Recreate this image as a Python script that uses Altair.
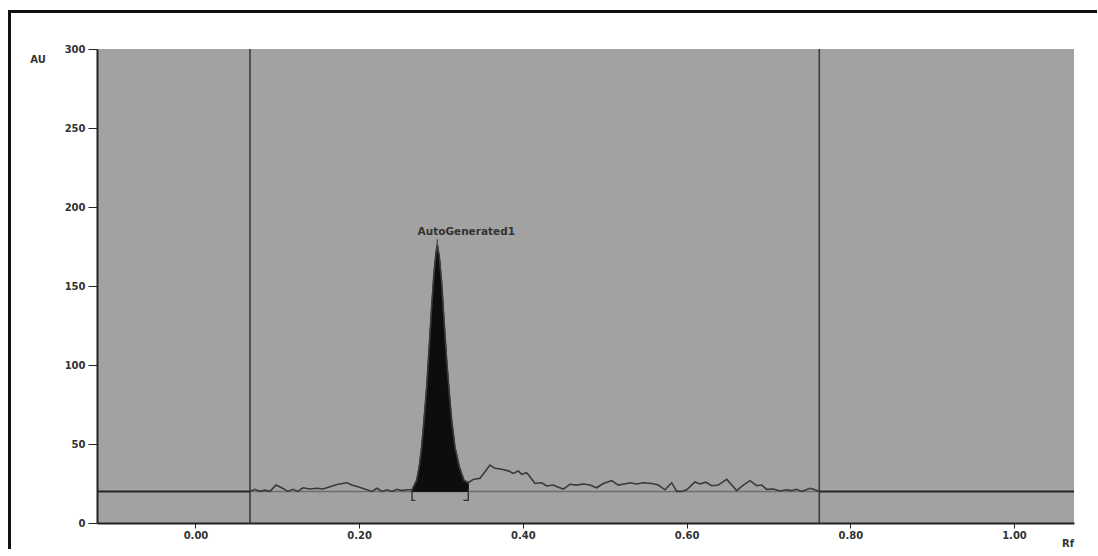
import altair as alt
import pandas as pd

# Densitogram trace: Rf position and detector response (AU)
rf = [
    0.0666, 0.0727, 0.0788, 0.0849, 0.0910, 0.0983, 0.1053, 0.1130, 0.1191, 0.1252,
    0.1313, 0.1399, 0.1484, 0.1558, 0.1643, 0.1741, 0.1851, 0.1912, 0.1985, 0.2095,
    0.2156, 0.2217, 0.2279, 0.2340, 0.2401, 0.2462, 0.2523, 0.2584, 0.2646,
    0.2703, 0.2734, 0.2764, 0.2792, 0.2825, 0.2856, 0.2886, 0.2914, 0.2938, 0.2954,
    0.2979, 0.3008, 0.3036, 0.3069, 0.3101, 0.3130, 0.3170, 0.3223, 0.3280, 0.3333,
    0.3394, 0.3476, 0.3537, 0.3598, 0.3659, 0.3741, 0.3822, 0.3883, 0.3944, 0.3985,
    0.4046, 0.4087, 0.4148, 0.4230, 0.4291, 0.4371, 0.4433, 0.4494, 0.4575, 0.4657,
    0.4738, 0.4820, 0.4902, 0.4982, 0.5085, 0.5166, 0.5268, 0.5308, 0.5390, 0.5471,
    0.5574, 0.5654, 0.5736, 0.5818, 0.5879, 0.5940, 0.6001, 0.6103, 0.6164, 0.6237,
    0.6307, 0.6387, 0.6490, 0.6571, 0.6612, 0.6693, 0.6775, 0.6856, 0.6917, 0.6979,
    0.7059, 0.7141, 0.7223, 0.7284, 0.7345, 0.7406, 0.7508, 0.7569, 0.7621,
]
au = [
    20.0, 21.3, 20.0, 20.8, 20.0, 24.0, 22.3, 20.0, 21.3, 20.0,
    22.3, 21.5, 22.0, 21.5, 23.0, 24.5, 25.5, 24.0, 23.0, 21.0,
    20.0, 22.0, 20.0, 21.0, 20.0, 21.3, 20.5, 21.0, 21.0,
    27.0, 35.6, 48.0, 65.0, 86.0, 111.6, 137.0, 158.0, 170.7, 176.0,
    168.5, 151.7, 128.5, 103.0, 82.0, 65.0, 48.0, 35.6, 27.0, 25.5,
    27.6, 28.3, 32.5, 36.7, 34.6, 34.0, 33.0, 31.4, 32.9, 30.8,
    31.8, 29.3, 25.0, 25.5, 23.4, 24.0, 22.6, 21.5, 24.5, 24.0,
    24.7, 24.0, 22.3, 25.0, 26.8, 24.0, 25.0, 25.5, 24.7, 25.5,
    25.0, 24.0, 21.0, 25.5, 20.0, 20.0, 21.0, 26.0, 24.7, 25.8,
    23.6, 24.0, 27.6, 23.0, 20.5, 24.0, 26.8, 23.6, 24.0, 21.3,
    21.5, 20.3, 21.0, 20.5, 21.3, 20.0, 22.0, 21.0, 20.0,
]

# Integrated peak window and apex
peak_start = 0.2646
peak_end = 0.3333
apex_rf = 0.2954
apex_au = 176.0
peak_name = "AutoGenerated1"

# Baseline level and scan window limits
baseline = 20.0
scan_start = 0.0666
scan_end = 0.7621

x_min, x_max = -0.1203, 1.0733
x_ticks = [0.0, 0.2, 0.4, 0.6, 0.8, 1.0]
y_ticks = [0, 50, 100, 150, 200, 250, 300]

FONT = "DejaVu Sans"
INK = "#333333"
FS = 10

trace = pd.DataFrame({"rf": rf, "au": au})
peak = trace[(trace.rf >= peak_start) & (trace.rf <= peak_end)].copy()
peak["base"] = baseline

xs = alt.Scale(domain=[x_min, x_max], nice=False, zero=False)
ys = alt.Scale(domain=[0, 300], nice=False)

x_axis = alt.Axis(values=x_ticks, format=".2f", title="", grid=False,
                  domainColor="#222222", domainWidth=2, tickColor="#222222",
                  tickSize=5, labelPadding=2, labelFont=FONT, labelFontSize=FS,
                  labelFontWeight="bold", labelColor=INK)
y_axis = alt.Axis(values=y_ticks, title="", grid=False,
                  domainColor="#222222", domainWidth=2, tickColor="#222222",
                  tickSize=9, labelPadding=3, labelFont=FONT, labelFontSize=FS,
                  labelFontWeight="bold", labelColor=INK)

X = lambda f: alt.X(f, type="quantitative", scale=xs, axis=x_axis)
Y = lambda f: alt.Y(f, type="quantitative", scale=ys, axis=y_axis)

one = pd.DataFrame({"k": [0]})

# Baseline outside the scan window (dark) and beneath it (light)
outer_base = pd.DataFrame({
    "x1": [x_min, scan_end], "x2": [scan_start, x_max], "y": [baseline, baseline]})
base_outer = alt.Chart(outer_base).mark_rule(color="#262626", strokeWidth=2).encode(
    x=X("x1"), x2="x2", y=Y("y"))
base_inner = alt.Chart(pd.DataFrame({"x1": [scan_start], "x2": [scan_end], "y": [baseline]})
                       ).mark_rule(color="#6e6e6e", strokeWidth=1.5).encode(
    x=X("x1"), x2="x2", y=Y("y"))

# Scan window markers
vlines = alt.Chart(pd.DataFrame({"x": [scan_start, scan_end]})).mark_rule(
    color="#3c3c3c", strokeWidth=1.6).encode(x=X("x"))

# Filled integrated peak
area = alt.Chart(peak).mark_area(fill="#0d0d0d", fillOpacity=1, opacity=1,
                                  stroke="#151515", strokeWidth=1.2
                                  ).encode(x=X("rf"), y=Y("au"), y2="base")

# Full trace
line = alt.Chart(trace).mark_line(color="#3a3a3a", strokeWidth=1.6,
                                  interpolate="linear").encode(x=X("rf"), y=Y("au"))

# Integration brackets at the peak boundaries
brk = pd.DataFrame({
    "rf": [peak_start, peak_start, peak_start + 0.004, peak_end, peak_end, peak_end - 0.006],
    "au": [baseline, 14.3, 14.3, baseline + 1, 14.3, 14.3],
    "g": ["a", "a", "a", "b", "b", "b"],
    "o": [0, 1, 2, 0, 1, 2],
})
brackets = alt.Chart(brk).mark_line(color="#333333", strokeWidth=1.4).encode(
    x=X("rf"), y=Y("au"), detail="g:N", order="o:Q")

# Apex marker and peak label
apex = pd.DataFrame({"rf": [apex_rf], "au": [apex_au], "top": [apex_au + 3.5], "name": [peak_name]})
apex_tick = alt.Chart(apex).mark_rule(color="#333333", strokeWidth=1).encode(
    x=X("rf"), y=Y("au"), y2="top")
label = alt.Chart(apex).mark_text(font=FONT, fontSize=10.5, fontWeight="bold", color=INK,
                                  align="center", baseline="middle", dx=29, dy=-13).encode(
    x=X("rf"), y=Y("au"), text="name:N")

# Axis captions
au_cap = alt.Chart(one).mark_text(text="AU", font=FONT, fontSize=FS, fontWeight="bold",
                                  color=INK, align="center", baseline="middle").encode(
    x=alt.value(-59), y=alt.value(11))
rf_cap = alt.Chart(one).mark_text(text="Rf", font=FONT, fontSize=FS, fontWeight="bold",
                                  color=INK, align="center", baseline="middle").encode(
    x=alt.value(971), y=alt.value(495))

plot = alt.layer(vlines, base_inner, base_outer, area, line, brackets, apex_tick, label,
                 au_cap, rf_cap)

# Outer frame: one open path along the top and left edges, kept inside the canvas
frame_pts = pd.DataFrame({"px": [1000, -87.5, -87.5], "py": [-37.5, -37.5, 500], "o": [0, 1, 2]})
frame = alt.Chart(frame_pts).mark_line(color="#111111", strokeWidth=3).encode(
    x=alt.X("px:Q", scale=None, axis=None), y=alt.Y("py:Q", scale=None, axis=None),
    order="o:Q")

chart = alt.layer(plot, frame).resolve_scale(
    x="independent", y="independent"
).properties(
    width=977, height=474,
    autosize=alt.AutoSizeParams(type="none"),
    padding={"left": 97, "top": 49, "right": 24, "bottom": 28},
).configure(background="#ffffff").configure_view(fill="#a2a2a2", strokeWidth=0)

chart.save("out.html", embed_options={"renderer": "svg", "actions": False})
